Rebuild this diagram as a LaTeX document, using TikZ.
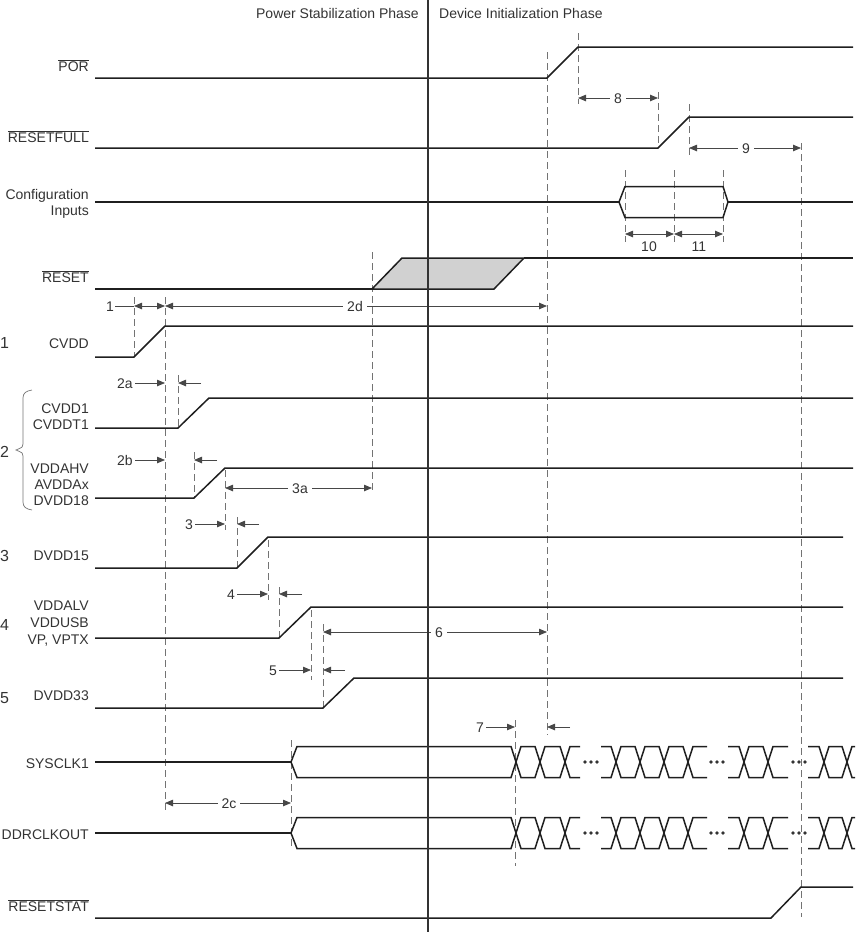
\documentclass[tikz,border=0pt]{standalone}
\usepackage{fontspec}
\setmainfont{Liberation Sans}
\usetikzlibrary{arrows.meta}
\newcommand{\ovl}[1]{$\overline{\mbox{#1}}$}
\begin{document}
\begin{tikzpicture}[x=1pt,y=-1pt,
  sig/.style={line width=1.5pt, draw=black!88},
  dsh/.style={draw=black!55, line width=0.8pt, dash pattern=on 7pt off 4pt},
  dimb/.style={draw=black!72, line width=0.8pt, {Triangle[length=8pt,width=6.5pt]}-{Triangle[length=8pt,width=6.5pt]}},
  dimr/.style={draw=black!72, line width=0.8pt, -{Triangle[length=8pt,width=6.5pt]}},
  lead/.style={draw=black!72, line width=0.8pt},
  lbl/.style={font=\fontsize{14}{16}\selectfont, text=black!80, inner sep=0pt},
  num/.style={font=\fontsize{16}{18}\selectfont, text=black!80, inner sep=0pt},
  bg/.style={fill=white, inner xsep=4pt, inner ysep=1pt},
  brace/.style={draw=black!55, line width=0.7pt}
]
\useasboundingbox (0,0) rectangle (855,932);

% ---------- dashed reference lines ----------
\draw[dsh] (134,297) -- (134,357);
\draw[dsh] (165,297) -- (165,810);
\draw[dsh] (178,375) -- (178,428);
\draw[dsh] (194,452) -- (194,498);
\draw[dsh] (225,470) -- (225,530);
\draw[dsh] (237,517) -- (237,568);
\draw[dsh] (268,540) -- (268,600);
\draw[dsh] (279,587) -- (279,638);
\draw[dsh] (311,610) -- (311,680);
\draw[dsh] (323,624) -- (323,708);
\draw[dsh] (372,252) -- (372,493);
\draw[dsh] (547,52) -- (547,735);
\draw[dsh] (578,33) -- (578,104);
\draw[dsh] (658,92) -- (658,148);
\draw[dsh] (689,104) -- (689,155);
\draw[dsh] (801,143) -- (801,917);
\draw[dsh] (625,170) -- (625,242);
\draw[dsh] (674,170) -- (674,242);
\draw[dsh] (723,170) -- (723,242);
\draw[dsh] (291,740) -- (291,847);
\draw[dsh] (515,720) -- (515,866);

% ---------- phase titles ----------
\node[lbl, anchor=base east] (ps) at (419,18) {Power Stabilization Phase};
\node[lbl, anchor=base west] (di) at (439,18) {Device Initialization Phase};

% ---------- signal labels ----------
\node[lbl, anchor=base east] (lpor) at (89,71) {\ovl{POR}};
\node[lbl, anchor=base east] (lrf) at (89,142) {\ovl{RESETFULL}};
\node[lbl, anchor=base east] (lci1) at (89,199) {Configuration};
\node[lbl, anchor=base east] (lci2) at (89,215) {Inputs};
\node[lbl, anchor=base east] (lrst) at (89,282) {\ovl{RESET}};
\node[lbl, anchor=base east] (lcvdd) at (89,348) {CVDD};
\node[lbl, anchor=base east] (lcv1) at (89,413) {CVDD1};
\node[lbl, anchor=base east] (lcv2) at (89,429) {CVDDT1};
\node[lbl, anchor=base east] (lva1) at (89,473) {VDDAHV};
\node[lbl, anchor=base east] (lva2) at (89,489) {AVDDAx};
\node[lbl, anchor=base east] (lva3) at (89,505) {DVDD18};
\node[lbl, anchor=base east] (ld15) at (89,560) {DVDD15};
\node[lbl, anchor=base east] (lvl1) at (89,610) {VDDALV};
\node[lbl, anchor=base east] (lvl2) at (89,627) {VDDUSB};
\node[lbl, anchor=base east] (lvl3) at (89,644) {VP, VPTX};
\node[lbl, anchor=base east] (ld33) at (89,700) {DVDD33};
\node[lbl, anchor=base east] (lsys) at (89,768) {SYSCLK1};
\node[lbl, anchor=base east] (lddr) at (89,839) {DDRCLKOUT};
\node[lbl, anchor=base east] (lrs) at (89,911) {\ovl{RESETSTAT}};

% ---------- left group numbers ----------
\node[num, anchor=base west] (n1) at (0,348) {1};
\node[num, anchor=base west] (n2) at (0,457) {2};
\node[num, anchor=base west] (n3) at (0,561) {3};
\node[num, anchor=base west] (n4) at (0,630) {4};
\node[num, anchor=base west] (n5) at (0,703) {5};
\draw[brace] (32,390) .. controls (26,391) and (23,393) .. (23,398) -- (23,444)
  .. controls (23,447) .. (16,450) .. controls (23,453) .. (23,456) -- (23,502)
  .. controls (23,507) and (26,509) .. (32,510);

% ---------- timing dimensions ----------
% 1 and 2d
\node[lbl, anchor=base] (t1) at (110,311) {1};
\draw[lead] (115,306) -- (134,306);
\draw[dimb] (134,306) -- (165,306);
\draw[dimb] (165,306) -- (547,306);
\node[lbl, bg, anchor=base] (t2d) at (355,311) {2d};
% 2a
\node[lbl, anchor=base] (t2a) at (125,388) {2a};
\draw[dimr] (135,383) -- (165,383);
\draw[dimr] (201,383) -- (178,383);
% 2b
\node[lbl, anchor=base] (t2b) at (125,465) {2b};
\draw[dimr] (135,460) -- (165,460);
\draw[dimr] (217,460) -- (194,460);
% 3a
\draw[dimb] (225,488) -- (372,488);
\node[lbl, bg, anchor=base] (t3a) at (300,493) {3a};
% 3
\node[lbl, anchor=base] (t3) at (189,529) {3};
\draw[dimr] (195,524) -- (225,524);
\draw[dimr] (259,524) -- (237,524);
% 4
\node[lbl, anchor=base] (t4) at (231,599) {4};
\draw[dimr] (237,594) -- (268,594);
\draw[dimr] (302,594) -- (279,594);
% 6
\draw[dimb] (323,632) -- (547,632);
\node[lbl, bg, anchor=base] (t6) at (439,637) {6};
% 5
\node[lbl, anchor=base] (t5) at (273,675) {5};
\draw[dimr] (279,670) -- (311,670);
\draw[dimr] (345,670) -- (323,670);
% 7
\node[lbl, anchor=base] (t7) at (480,732) {7};
\draw[dimr] (486,727) -- (515,727);
\draw[dimr] (570,727) -- (547,727);
% 2c
\draw[dimb] (165,803) -- (291,803);
\node[lbl, bg, anchor=base] (t2c) at (229,808) {2c};
% 8
\draw[dimb] (578,98) -- (658,98);
\node[lbl, bg, anchor=base] (t8) at (618,103) {8};
% 9
\draw[dimb] (689,148) -- (801,148);
\node[lbl, bg, anchor=base] (t9) at (746,153) {9};
% 10, 11
\draw[dimb] (625,234) -- (674,234);
\draw[dimb] (674,234) -- (723,234);
\node[lbl, anchor=base] (t10) at (649,251) {10};
\node[lbl, anchor=base] (t11) at (699,251) {11};

% ---------- signals ----------
\draw[sig] (95,78) -- (547,78) -- (578,47) -- (853,47);
\draw[sig] (95,148) -- (658,148) -- (689,117) -- (853,117);
\draw[sig] (95,202) -- (619,202);
\foreach \s in {1,-1} {
  \draw[sig] (619,202) -- (625,202-15.5*\s) -- (723,202-15.5*\s) -- (728,202);
}
\draw[sig] (728,202) -- (853,202);
\filldraw[sig, fill=black!18] (372,289) -- (402,258) -- (524,258) -- (494,289) -- cycle;
\draw[sig] (95,289) -- (372,289);
\draw[sig] (524,258) -- (853,258);
\draw[sig] (95,357) -- (134,357) -- (165,326) -- (853,326);
\draw[sig] (95,428) -- (178,428) -- (209,398) -- (853,398);
\draw[sig] (95,498) -- (194,498) -- (225,468) -- (853,468);
\draw[sig] (95,568) -- (237,568) -- (268,537) -- (843,537);
\draw[sig] (95,638) -- (279,638) -- (311,607) -- (843,607);
\draw[sig] (95,708) -- (323,708) -- (354,678) -- (843,678);
\draw[sig] (95,918) -- (771,918) -- (801,887) -- (853,887);

% clocks
\foreach \yc in {762,833} {
  \draw[sig] (95,\yc) -- (291,\yc);
  \foreach \s in {1,-1} {
    \draw[sig] (291,\yc) -- (297,\yc-15.5*\s) -- (511,\yc-15.5*\s) -- (521,\yc+15.5*\s)
      -- (535,\yc+15.5*\s) -- (545,\yc-15.5*\s) -- (560,\yc-15.5*\s) -- (570,\yc+15.5*\s) -- (580,\yc+15.5*\s);
    \draw[sig] (601,\yc-15.5*\s) -- (611,\yc-15.5*\s) -- (621,\yc+15.5*\s) -- (635,\yc+15.5*\s)
      -- (645,\yc-15.5*\s) -- (659,\yc-15.5*\s) -- (669,\yc+15.5*\s) -- (683,\yc+15.5*\s)
      -- (693,\yc-15.5*\s) -- (707,\yc-15.5*\s);
    \draw[sig] (728,\yc-15.5*\s) -- (739,\yc-15.5*\s) -- (749,\yc+15.5*\s) -- (763,\yc+15.5*\s)
      -- (773,\yc-15.5*\s) -- (788,\yc-15.5*\s);
    \draw[sig] (808,\yc-15.5*\s) -- (819,\yc-15.5*\s) -- (829,\yc+15.5*\s) -- (842,\yc+15.5*\s)
      -- (852,\yc-15.5*\s) -- (855,\yc-15.5*\s);
  }
  \foreach \d in {585,591,597,711,717,723,793,799,805}
    \fill[black!80] (\d,\yc) circle (1.9pt);
}

% ---------- phase divider ----------
\draw[line width=2pt, black!80] (428,0) -- (428,932);
\end{tikzpicture}
\end{document}
